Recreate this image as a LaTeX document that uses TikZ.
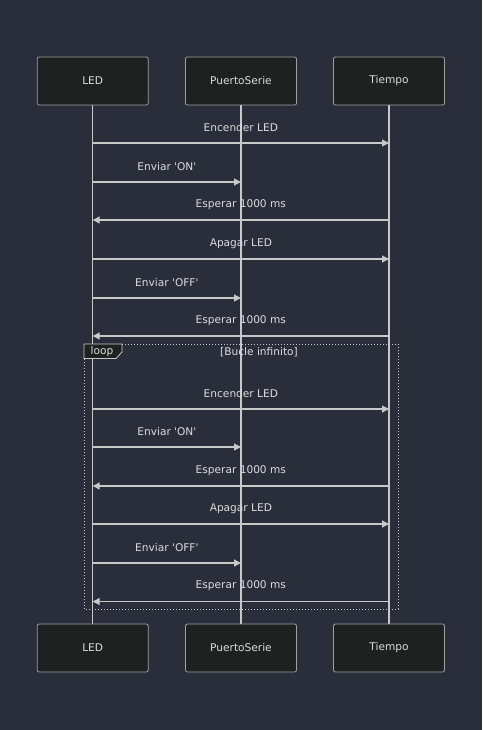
\documentclass[tikz,border=0pt]{standalone}
\usepackage{fontspec}
\setmainfont{DejaVu Sans}
\usetikzlibrary{arrows.meta}
\definecolor{bg}{HTML}{2A2E3B}
\definecolor{boxfill}{HTML}{1F2020}
\definecolor{boxline}{HTML}{A0A0A0}
\definecolor{ln}{HTML}{C8C8C8}
\definecolor{txt}{HTML}{DCDCDC}
\tikzset{
  actor/.style={draw=boxline, fill=boxfill, rounded corners=2pt, line width=0.8pt,
    minimum width=111pt, minimum height=48pt, inner sep=0pt, text=txt},
  lifeline/.style={draw=ln, line width=1.4pt},
  msg/.style={draw=ln, line width=1.2pt, -{Triangle[length=7pt,width=7pt]}},
  lbl/.style={text=txt, inner sep=1pt},
  loopbox/.style={draw=ln, line width=1pt, dotted},
}
\newcommand{\mymsg}[5]{%
  \draw[msg] (#2 |- 0,#4) -- node[lbl, yshift=15.5pt] (#1) {#5} (#3 |- 0,#4);}
\newcommand{\q}{\textquotesingle}
\begin{document}
\begin{tikzpicture}[x=1pt,y=-1pt, font=\fontsize{10.6}{12}\selectfont]
\fill[bg] (0,0) rectangle (482,730);
\useasboundingbox (0,0) rectangle (482,730);
% lifelines (behind boxes)
\draw[lifeline] (92.7,105) -- (92.7,624);
\draw[lifeline] (241,105) -- (241,624);
\draw[lifeline] (389,105) -- (389,624);
% actors
\node[actor] (ledT) at (92.7,81) {LED};
\node[actor] (psT) at (241,81) {PuertoSerie};
\node[actor] (tiT) at (389,81) {Tiempo};
\node[actor] (ledB) at (92.7,648) {LED};
\node[actor] (psB) at (241,648) {PuertoSerie};
\node[actor] (tiB) at (389,648) {Tiempo};
% messages before loop
\mymsg{m1}{ledT}{tiT}{143}{Encender LED}
\mymsg{m2}{ledT}{psT}{182}{Enviar \q ON\q}
\mymsg{m3}{tiT}{ledT}{220}{Esperar 1000 ms}
\mymsg{m4}{ledT}{tiT}{259}{Apagar LED}
\mymsg{m5}{ledT}{psT}{298}{Enviar \q OFF\q}
\mymsg{m6}{tiT}{ledT}{336}{Esperar 1000 ms}
% loop
\draw[loopbox] (84,344) rectangle (398,609);
\draw[draw=ln, line width=0.8pt, fill=boxfill] (84,344) -- (122,344) -- (122,352) -- (116,358.5) -- (84,358.5) -- cycle;
\node[lbl] (looplbl) at (102,351.5) {loop};
\node[lbl] (loopcond) at (259,352.5) {[Bucle infinito]};
\mymsg{n1}{ledT}{tiT}{409}{Encender LED}
\mymsg{n2}{ledT}{psT}{447}{Enviar \q ON\q}
\mymsg{n3}{tiT}{ledT}{486}{Esperar 1000 ms}
\mymsg{n4}{ledT}{tiT}{524}{Apagar LED}
\mymsg{n5}{ledT}{psT}{563}{Enviar \q OFF\q}
\mymsg{n6}{tiT}{ledT}{601.5}{Esperar 1000 ms}
\end{tikzpicture}
\end{document}
